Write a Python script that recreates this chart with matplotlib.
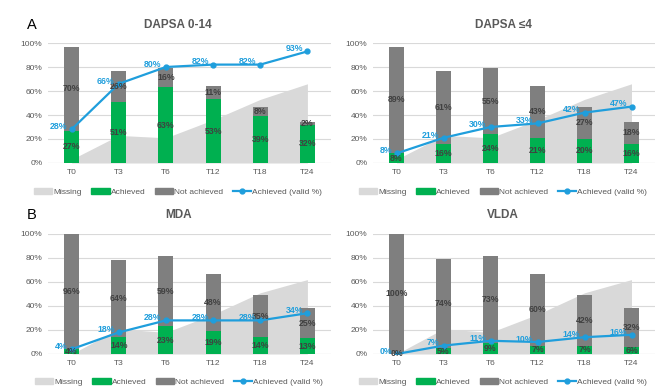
import numpy as np
import matplotlib.pyplot as plt
from matplotlib.patches import Patch
from matplotlib.lines import Line2D

plt.rcParams['font.family'] = ['Liberation Sans', 'DejaVu Sans']

times = ['T0', 'T3', 'T6', 'T12', 'T18', 'T24']

# DAPSA 0-14
dapsa014_ach = [27, 51, 63, 53, 39, 32]
dapsa014_not = [70, 26, 16, 11, 8, 2]
dapsa014_valid = [28, 66, 80, 82, 82, 93]
dapsa014_miss = [3, 23, 21, 36, 53, 66]

# DAPSA <=4
dapsa4_ach = [8, 16, 24, 21, 20, 16]
dapsa4_not = [89, 61, 55, 43, 27, 18]
dapsa4_valid = [8, 21, 30, 33, 42, 47]
dapsa4_miss = [3, 23, 21, 36, 53, 66]

# MDA
mda_ach = [4, 14, 23, 19, 14, 13]
mda_not = [96, 64, 59, 48, 35, 25]
mda_valid = [4, 18, 28, 28, 28, 34]
mda_miss = [0, 21, 18, 33, 51, 62]

# VLDA
vlda_ach = [0, 5, 9, 7, 7, 6]
vlda_not = [100, 74, 73, 60, 42, 32]
vlda_valid = [0, 7, 11, 10, 14, 16]
vlda_miss = [0, 21, 18, 33, 51, 62]

C_MISS = '#D9D9D9'
C_ACH = '#00B050'
C_NOT = '#7F7F7F'
C_LINE = '#1F9EDC'
C_TXT = '#595959'

W, H = 669, 387
fig = plt.figure(figsize=(W / 100, H / 100), dpi=100)


def px_axes(x0, x1, ytop, ybot):
    return fig.add_axes([x0 / W, 1 - ybot / H, (x1 - x0) / W, (ybot - ytop) / H])


panels = [
    ('DAPSA 0-14', dapsa014_ach, dapsa014_not, dapsa014_valid, dapsa014_miss, (48, 331, 43, 163), 178, 25, 192),
    ('DAPSA \u22644', dapsa4_ach, dapsa4_not, dapsa4_valid, dapsa4_miss, (373, 655, 43, 163), 503, 25, 192),
    ('MDA', mda_ach, mda_not, mda_valid, mda_miss, (48, 331, 234, 354), 179, 215, 382),
    ('VLDA', vlda_ach, vlda_not, vlda_valid, vlda_miss, (373, 655, 234, 354), 503, 215, 382),
]

for title, ach, nota, valid, miss, box, tx, ty, ly in panels:
    ax = px_axes(*box)
    x = np.arange(len(times))
    ach = np.array(ach)
    nota = np.array(nota)

    ax.fill_between(x, 0, miss, color=C_MISS, lw=0, zorder=1)
    ax.bar(x, ach, width=0.32, color=C_ACH, zorder=2)
    ax.bar(x, nota, width=0.32, bottom=ach, color=C_NOT, zorder=2)
    ax.plot(x, valid, color=C_LINE, lw=1.6, marker='o', ms=3.5, zorder=4)

    for i in range(len(x)):
        ax.text(x[i], ach[i] / 2, f'{ach[i]}%', ha='center', va='center',
                fontsize=6.3, color='#404040', fontweight='bold', zorder=5)
        ax.text(x[i], ach[i] + nota[i] / 2, f'{nota[i]}%', ha='center', va='center',
                fontsize=6.3, color='#404040', fontweight='bold', zorder=5)
        ax.annotate(f'{valid[i]}%', (x[i], valid[i]), xytext=(-3, 2), textcoords='offset points',
                    ha='right', va='center', fontsize=6.3, color=C_LINE, fontweight='bold', zorder=6)

    ax.set_xlim(-0.5, len(times) - 0.5)
    ax.set_ylim(0, 100)
    ax.set_yticks(range(0, 101, 20))
    ax.set_yticklabels([f'{v}%' for v in range(0, 101, 20)])
    ax.set_xticks(x)
    ax.set_xticklabels(times)
    ax.tick_params(length=0, labelsize=6, colors=C_TXT, pad=4)
    ax.grid(axis='y', color='#D9D9D9', lw=0.8, zorder=0)
    ax.set_axisbelow(True)
    for s in ax.spines.values():
        s.set_visible(False)
    ax.axhline(0, color='#D9D9D9', lw=0.8, zorder=0)

    fig.text(tx / W, 1 - ty / H, title, ha='center', va='center', fontsize=8.5,
             fontweight='bold', color=C_TXT)

    handles = [Patch(color=C_MISS), Patch(color=C_ACH), Patch(color=C_NOT),
               Line2D([], [], color=C_LINE, lw=1.6, marker='o', ms=3.5)]
    fig.legend(handles, ['Missing', 'Achieved', 'Not achieved', 'Achieved (valid %)'],
               loc='center', bbox_to_anchor=(tx / W, 1 - ly / H), ncol=4, frameon=False,
               fontsize=6, labelcolor=C_TXT, handlelength=2.2, handleheight=0.6,
               handletextpad=0.15, columnspacing=1.1, borderpad=0)

fig.text(32 / W, 1 - 25 / H, 'A', ha='center', va='center', fontsize=10.5)
fig.text(32 / W, 1 - 215 / H, 'B', ha='center', va='center', fontsize=10.5)

fig.savefig('out.png', dpi=100)
